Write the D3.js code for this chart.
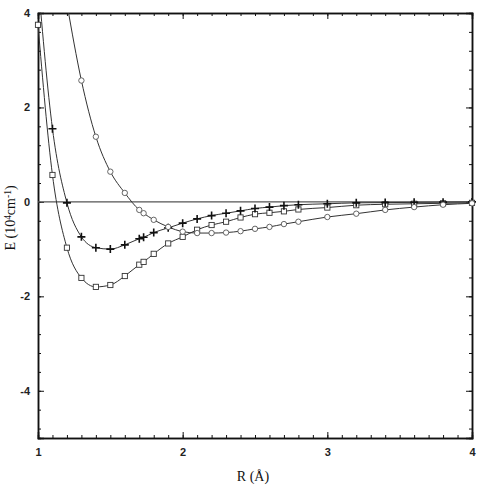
<!DOCTYPE html>
<html>
  <head>
    <meta charset="utf-8">
    <title>Potential curves</title>
    <style>
      body { margin: 0; background: #fff; }
      .tick text { font-family: "Liberation Sans", Arial, sans-serif; font-weight: bold; font-size: 11px; fill: #222; }
      .domain { stroke: #111; stroke-width: 1.5; }
      .tick line { stroke: #111; }
      .title { font-family: "Liberation Serif", "Times New Roman", serif; font-size: 14px; fill: #111; }
    </style>
  </head>
  <body>
    <div id="chart"></div>
    <script src="https://d3js.org/d3.v7.min.js"></script>
    <script>
      (function(d3) {
        'use strict';

        // squares
        var rSquare = [1.0, 1.1, 1.2, 1.3, 1.4, 1.5, 1.6, 1.7, 1.73, 1.8, 1.9, 2.0, 2.1, 2.2, 2.3, 2.4, 2.5, 2.6, 2.7, 2.8, 3.0, 3.2, 3.4, 3.6, 3.8, 4.0];
        var eSquare = [3.75, 0.57, -0.97, -1.61, -1.80, -1.76, -1.57, -1.33, -1.27, -1.10, -0.88, -0.74, -0.59, -0.49, -0.42, -0.33, -0.26, -0.23, -0.20, -0.16, -0.12, -0.07, -0.05, -0.04, -0.03, -0.02];

        // plus
        var rPlus = [1.0, 1.1, 1.2, 1.3, 1.4, 1.5, 1.6, 1.7, 1.73, 1.8, 1.9, 2.0, 2.1, 2.2, 2.3, 2.4, 2.5, 2.6, 2.7, 2.8, 3.0, 3.2, 3.4, 3.6, 3.8, 4.0];
        var ePlus = [4.7, 1.55, -0.02, -0.74, -0.97, -1.0, -0.91, -0.78, -0.75, -0.65, -0.55, -0.45, -0.36, -0.29, -0.24, -0.19, -0.14, -0.11, -0.08, -0.06, -0.04, -0.02, -0.015, -0.01, -0.005, 0];

        // circles
        var rCircle = [1.2, 1.3, 1.4, 1.5, 1.6, 1.7, 1.73, 1.8, 1.9, 2.0, 2.1, 2.2, 2.3, 2.4, 2.5, 2.6, 2.7, 2.8, 3.0, 3.2, 3.4, 3.6, 3.8, 4.0];
        var eCircle = [4.2, 2.57, 1.38, 0.64, 0.19, -0.17, -0.24, -0.38, -0.53, -0.63, -0.66, -0.66, -0.65, -0.62, -0.57, -0.53, -0.47, -0.42, -0.32, -0.25, -0.17, -0.11, -0.06, -0.03];

        var xTicks = [1, 2, 3, 4];
        var yTicks = [4, 2, 0, -2, -4];

        var width = 478, height = 488;
        var margin = { top: 13, right: 6, bottom: 50, left: 38 };

        var x = d3.scaleLinear().domain([1, 4]).range([margin.left, width - margin.right]);
        var y = d3.scaleLinear().domain([-5, 4]).range([height - margin.bottom, margin.top]);

        var svg = d3.select('#chart').append('svg')
          .attr('width', width)
          .attr('height', height);

        svg.append('clipPath').attr('id', 'plot')
          .append('rect')
          .attr('x', margin.left - 4)
          .attr('y', margin.top)
          .attr('width', width - margin.left - margin.right + 8)
          .attr('height', height - margin.top - margin.bottom);

        var minorX = d3.range(1, 4.001, 0.1);
        var minorY = d3.range(0, 23).map(function(k) { return 4 - 0.4 * k; });

        function fmt(d) { return d < 0 ? '-' + Math.abs(d) : String(d); }

        // minor ticks (no labels)
        svg.append('g').attr('transform', 'translate(0,' + y(-5) + ')')
          .call(d3.axisBottom(x).tickValues(minorX).tickSize(-3).tickFormat(''));
        svg.append('g').attr('transform', 'translate(0,' + y(4) + ')')
          .call(d3.axisTop(x).tickValues(minorX).tickSize(-3).tickFormat(''));
        svg.append('g').attr('transform', 'translate(' + x(1) + ',0)')
          .call(d3.axisLeft(y).tickValues(minorY).tickSize(-3).tickFormat(''));
        svg.append('g').attr('transform', 'translate(' + x(4) + ',0)')
          .call(d3.axisRight(y).tickValues(minorY).tickSize(-3).tickFormat(''));

        // major ticks
        svg.append('g').attr('transform', 'translate(0,' + y(-5) + ')')
          .call(d3.axisBottom(x).tickValues(xTicks).tickSize(-6).tickPadding(10).tickFormat(fmt));
        svg.append('g').attr('transform', 'translate(0,' + y(4) + ')')
          .call(d3.axisTop(x).tickValues(xTicks).tickSize(-6).tickFormat(''));
        svg.append('g').attr('transform', 'translate(' + x(1) + ',0)')
          .call(d3.axisLeft(y).tickValues(yTicks).tickSize(-6).tickPadding(8).tickFormat(fmt));
        svg.append('g').attr('transform', 'translate(' + x(4) + ',0)')
          .call(d3.axisRight(y).tickValues(yTicks).tickSize(-6).tickFormat(''));

        svg.selectAll('.domain').attr('stroke-width', 1.5);

        // zero line
        svg.append('line')
          .attr('x1', x(1)).attr('x2', x(4))
          .attr('y1', y(0)).attr('y2', y(0))
          .attr('stroke', '#555').attr('stroke-width', 1.3);

        var series = [
          { r: rSquare, e: eSquare, marker: 'square' },
          { r: rPlus, e: ePlus, marker: 'plus' },
          { r: rCircle, e: eCircle, marker: 'circle' }
        ];

        var line = d3.line()
          .x(function(d) { return x(d[0]); })
          .y(function(d) { return y(d[1]); })
          .curve(d3.curveMonotoneX);

        var g = svg.append('g').attr('clip-path', 'url(#plot)');

        series.forEach(function(s) {
          var pts = s.r.map(function(r, i) { return [r, s.e[i]]; });
          g.append('path')
            .attr('d', line(pts))
            .attr('fill', 'none')
            .attr('stroke', '#333')
            .attr('stroke-width', 1);

          var vis = pts.filter(function(p) { return p[1] <= 4; });
          var m = g.selectAll(null).data(vis).enter();
          if (s.marker === 'square') {
            m.append('rect')
              .attr('x', function(d) { return x(d[0]) - 2.6; })
              .attr('y', function(d) { return y(d[1]) - 2.6; })
              .attr('width', 5.2).attr('height', 5.2)
              .attr('fill', '#fff').attr('stroke', '#333').attr('stroke-width', 0.9);
          } else if (s.marker === 'circle') {
            m.append('circle')
              .attr('cx', function(d) { return x(d[0]); })
              .attr('cy', function(d) { return y(d[1]); })
              .attr('r', 2.7)
              .attr('fill', '#fff').attr('stroke', '#555').attr('stroke-width', 0.9);
          } else {
            m.append('path')
              .attr('d', function(d) {
                var cx = x(d[0]), cy = y(d[1]);
                return 'M' + (cx - 4) + ',' + cy + 'H' + (cx + 4) + 'M' + cx + ',' + (cy - 4) + 'V' + (cy + 4);
              })
              .attr('stroke', '#111').attr('stroke-width', 1.6);
          }
        });

        // titles
        svg.append('text').attr('class', 'title')
          .attr('x', 253).attr('y', 481)
          .attr('text-anchor', 'middle')
          .text('R (\u00c5)');

        var yt = svg.append('text').attr('class', 'title')
          .attr('transform', 'translate(15,218) rotate(-90)')
          .attr('text-anchor', 'middle');
        yt.append('tspan').text('E (10');
        yt.append('tspan').attr('font-size', 9.5).attr('dy', -4).text('4');
        yt.append('tspan').attr('dy', 4).text('cm');
        yt.append('tspan').attr('font-size', 9.5).attr('dy', -4).text('-1');
        yt.append('tspan').attr('dy', 4).text(')');
      })(window.d3);
    </script>
  </body>
</html>
